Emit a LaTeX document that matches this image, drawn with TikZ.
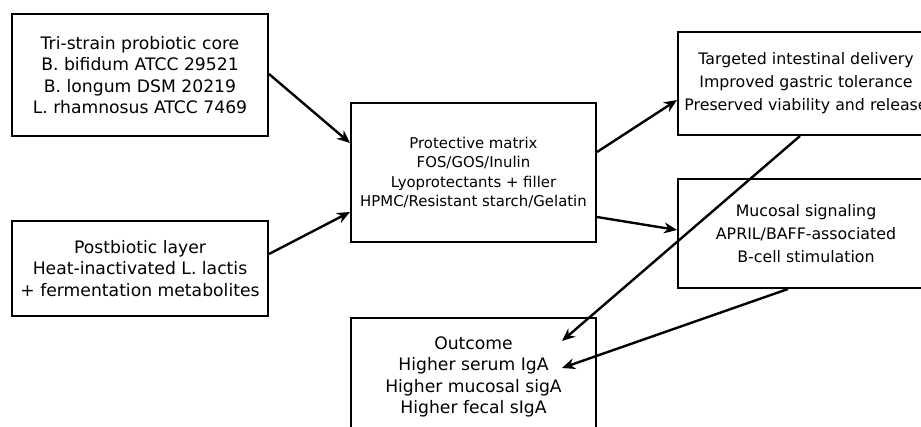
\documentclass[tikz,border=0pt]{standalone}
\usepackage{fontspec}
\setmainfont{DejaVu Sans}
\usetikzlibrary{arrows.meta,calc}
\begin{document}
\begin{tikzpicture}[x=1pt,y=-1pt,
  box/.style={draw=black,line width=2pt,fill=none,align=center,inner sep=0pt},
  big/.style={font=\fontsize{17.2}{21.5}\selectfont},
  mid/.style={font=\fontsize{15.8}{23}\selectfont},
  small/.style={font=\fontsize{14.9}{19.5}\selectfont},
  conn/.style={line width=2.4pt,-{Stealth[length=13pt,width=11pt]}}]
\useasboundingbox (0,0) rectangle (921,426);
\clip (0,0) rectangle (921,426);
\fill[white] (0,0) rectangle (921,426);
\node[box,big,minimum width=256pt,minimum height=122pt] (p) at (140,75)
  {Tri-strain probiotic core\\B. bifidum ATCC 29521\\B. longum DSM 20219\\L. rhamnosus ATCC 7469};
\node[box,big,minimum width=256pt,minimum height=95pt] (q) at (140,268.5)
  {Postbiotic layer\\Heat-inactivated L. lactis\\+ fermentation metabolites};
\node[box,small,minimum width=245pt,minimum height=139pt] (m) at (473.5,172.5)
  {Protective matrix\\FOS/GOS/Inulin\\Lyoprotectants + filler\\HPMC/Resistant starch/Gelatin};
\node[box,mid,minimum width=256pt,minimum height=103pt] (t) at (806,83.5)
  {Targeted intestinal delivery\\Improved gastric tolerance\\Preserved viability and release};
\node[box,mid,minimum width=256pt,minimum height=109pt] (s) at (806,233.5)
  {Mucosal signaling\\APRIL/BAFF-associated\\B-cell stimulation};
\node[box,big,minimum width=245pt,minimum height=118pt] (o) at (473.5,377)
  {Outcome\\Higher serum IgA\\Higher mucosal sigA\\Higher fecal sIgA};
\draw[conn] ([yshift=1pt]p.east) -- ([yshift=29.5pt]m.west);
\draw[conn] ([yshift=14.5pt]q.east) -- ([yshift=-39.5pt]m.west);
\draw[conn] ([yshift=20.5pt]m.east) -- ([yshift=-16.5pt]t.west);
\draw[conn] ([yshift=-44.5pt]m.east) -- ([yshift=3.5pt]s.west);
\draw[conn] ([xshift=-6pt]t.south) -- ([xshift=88.5pt,yshift=36pt]o.center);
\draw[conn] ([xshift=-18pt]s.south) -- ([xshift=88.5pt,yshift=9pt]o.center);
\end{tikzpicture}
\end{document}
